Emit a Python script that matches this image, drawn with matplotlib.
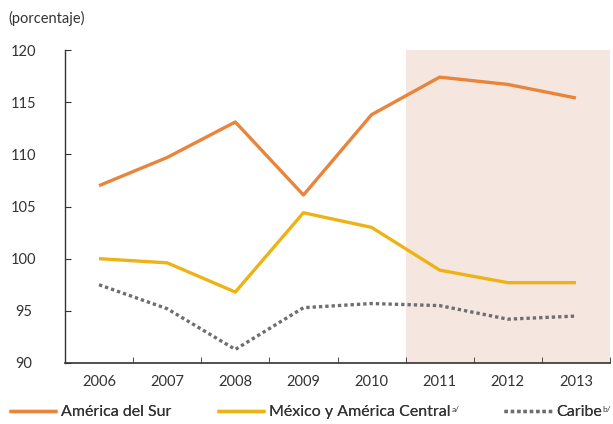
import numpy as np
import matplotlib
matplotlib.use('Agg')
import matplotlib.pyplot as plt

plt.rcParams['font.family'] = ['Lato', 'DejaVu Sans']

# datos
years = ['2006', '2007', '2008', '2009', '2010', '2011', '2012', '2013']
america_sur = [107.0, 109.7, 113.1, 106.1, 113.8, 117.4, 116.7, 115.4]
mexico_central = [100.0, 99.6, 96.8, 104.4, 103.0, 98.9, 97.7, 97.7]
caribe = [97.5, 95.2, 91.3, 95.3, 95.7, 95.5, 94.2, 94.5]
y_ticks = [90, 95, 100, 105, 110, 115, 120]

fig = plt.figure(figsize=(6.13, 4.24), dpi=100)
ax = fig.add_axes([65/613, 1 - 363/424, (610 - 65)/613, (363 - 50)/424])

x = np.arange(len(years))

# zona sombreada (proyecciones)
ax.axvspan(4.5, 7.5, color='#F5E7E0', lw=0, zorder=0)

l1, = ax.plot(x, america_sur, color='#E9843A', lw=2.4, solid_capstyle='butt')
l2, = ax.plot(x, mexico_central, color='#EDB314', lw=2.4, solid_capstyle='butt')
l3, = ax.plot(x, caribe, color='#6E6E70', lw=2.4, linestyle=(0, (1, 0.9)))

ax.set_xlim(-0.5, 7.5)
ax.set_ylim(90, 120)
ax.set_yticks(y_ticks)
ax.set_xticks(x)
ax.set_xticklabels(years)
ax.set_xticks(np.arange(-0.5, 7.6, 1), minor=True)
ax.tick_params(axis='x', which='major', length=0, pad=9, labelsize=10.5, colors='#333333')
ax.tick_params(axis='x', which='minor', direction='in', length=4, color='#333333')
ax.tick_params(axis='y', direction='in', length=4, pad=30, labelsize=10.5, colors='#333333')
for lbl in ax.get_yticklabels():
    lbl.set_horizontalalignment('center')

for s in ['top', 'right']:
    ax.spines[s].set_visible(False)
ax.spines['left'].set_color('#333333')
ax.spines['bottom'].set_color('#333333')
ax.spines['left'].set_linewidth(1.0)
ax.spines['bottom'].set_linewidth(1.2)

fig.text(8/613, 1 - 18/424, '(porcentaje)', fontsize=10.5, color='#333333', va='center')

# leyenda: una entrada por separado para fijar posiciones
entries = [
    (l1, 'América del Sur', '', 9),
    (l2, 'México y América Central', 'a/', 217),
    (l3, 'Caribe', 'b/', 504),
]
legs = []
for h, lab, sup, xpos in entries:
    leg = fig.legend([h], [lab], loc='center left', bbox_to_anchor=(xpos/613, 1 - 412/424),
                     frameon=False, fontsize=11.5, handlelength=3.0, handletextpad=0.25,
                     borderaxespad=0, borderpad=0, labelcolor='#333333')
    fig.add_artist(leg)
    legs.append((leg, sup))

# superindices pequeños al final de cada etiqueta
fig.canvas.draw()
for leg, sup in legs:
    if not sup:
        continue
    bb = leg.get_texts()[0].get_window_extent()
    fig.text((bb.x1 + 1) / 613, (bb.y1 - 4) / 424, sup, fontsize=6, color='#333333',
             ha='left', va='center')

fig.savefig('out.png', dpi=100)
